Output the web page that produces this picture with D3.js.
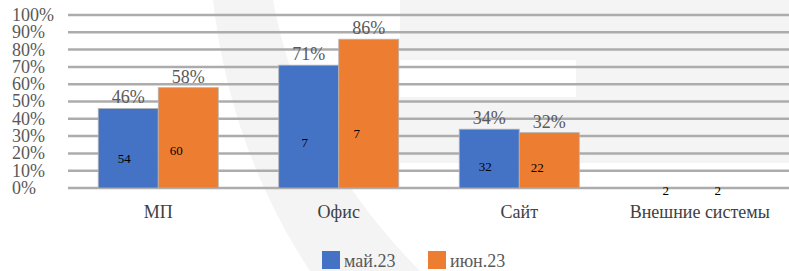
<!DOCTYPE html>
<html>
<head>
<meta charset="utf-8">
<script src="https://cdn.jsdelivr.net/npm/d3@7"></script>
<style>
  html, body { margin: 0; padding: 0; background: #ffffff; }
  svg { display: block; }
</style>
</head>
<body>
<svg id="chart" width="789" height="271"></svg>
<script>
// ---- data ----
const categories = ["МП", "Офис", "Сайт", "Внешние системы"];
const seriesNames = ["май.23", "июн.23"];
const mayValues = [46, 71, 34, 0];
const junValues = [58, 86, 32, 0];
const mayCounts = ["54", "7", "32", "2"];
const junCounts = ["60", "7", "22", "2"];
const yTicks = [0, 10, 20, 30, 40, 50, 60, 70, 80, 90, 100];
const colors = ["#4472C4", "#ED7D31"];

const series = [
  { name: seriesNames[0], values: mayValues, counts: mayCounts, color: colors[0], dx: -4 },
  { name: seriesNames[1], values: junValues, counts: junCounts, color: colors[1], dx: -12 }
];

const FONT = '"Liberation Serif", "Times New Roman", serif';
const svg = d3.select("#chart");
const W = 789;

// faint watermark background
const bg = svg.append("g");
bg.append("rect").attr("x", 400).attr("y", 0).attr("width", 389).attr("height", 163).attr("fill", "#f4f4f4");
bg.append("rect").attr("x", 400).attr("y", 60).attr("width", 176).attr("height", 37).attr("fill", "#ffffff");
bg.append("path")
  .attr("d", "M213,0 L273,0 Q300,150 420,271 L310,271 Q230,150 213,0 Z")
  .attr("fill", "#f4f4f4");

// scales
const x0 = d3.scaleBand().domain(categories).range([68, 790]).paddingInner(0.335).paddingOuter(0.1675);
const x1 = d3.scaleBand().domain(seriesNames).range([0, x0.bandwidth()]).padding(0);
const y = d3.scaleLinear().domain([0, 100]).range([188, 15]);

// gridlines
svg.append("g").selectAll("line").data(yTicks).join("line")
  .attr("x1", 68).attr("x2", W)
  .attr("y1", d => y(d)).attr("y2", d => y(d))
  .attr("stroke", "#acacac").attr("stroke-width", 2.5);

// y tick labels (left-aligned)
svg.append("g").selectAll("text").data(yTicks).join("text")
  .attr("x", 12).attr("y", d => y(d)).attr("dy", "0.33em")
  .style("font-family", FONT)
  .attr("font-size", 18).attr("fill", "#595959")
  .text(d => d + "%");

// bars
const groups = svg.append("g").selectAll("g").data(series).join("g");
groups.selectAll("rect").data(s => categories.map((c, i) => ({ c, v: s.values[i], s }))).join("rect")
  .attr("x", d => x0(d.c) + x1(d.s.name))
  .attr("y", d => y(d.v))
  .attr("width", x1.bandwidth())
  .attr("height", d => y(0) - y(d.v))
  .attr("fill", d => d.s.color)
  .attr("stroke", d => d.v > 0 ? "#b4b4b4" : "none")
  .attr("stroke-width", 0.8);

// percent labels above bars
groups.selectAll("text.pct").data(s => categories.map((c, i) => ({ c, v: s.values[i], s })).filter(d => d.v > 0)).join("text")
  .attr("class", "pct")
  .attr("x", d => x0(d.c) + x1(d.s.name) + x1.bandwidth() / 2)
  .attr("y", d => y(d.v) - 5)
  .attr("text-anchor", "middle")
  .style("font-family", FONT)
  .attr("font-size", 18).attr("fill", "#595959")
  .text(d => d.v + "%");

// count labels inside bars
groups.selectAll("text.cnt").data(s => categories.map((c, i) => ({ c, v: s.values[i], n: s.counts[i], s }))).join("text")
  .attr("class", "cnt")
  .attr("x", d => x0(d.c) + x1(d.s.name) + x1.bandwidth() / 2 + d.s.dx)
  .attr("y", d => {
    const h = y(0) - y(d.v);
    return d.v > 0 ? y(0) - 0.37 * h : y(0) + 2;
  })
  .attr("dy", "0.35em")
  .attr("text-anchor", "middle")
  .style("font-family", FONT)
  .attr("font-size", 13).attr("fill", "#000000")
  .text(d => d.n);

// category labels
svg.append("g").selectAll("text").data(categories).join("text")
  .attr("x", d => x0(d) + x0.bandwidth() / 2)
  .attr("y", 218)
  .attr("text-anchor", "middle")
  .style("font-family", FONT)
  .attr("font-size", 18).attr("fill", "#404040")
  .text(d => d);

// legend
const legend = svg.append("g");
const legendX = [322, 428];
series.forEach((s, i) => {
  legend.append("rect").attr("x", legendX[i]).attr("y", 251).attr("width", 18).attr("height", 18).attr("fill", s.color);
  legend.append("text").attr("x", legendX[i] + 22).attr("y", 267)
    .style("font-family", FONT)
    .attr("font-size", 18).attr("fill", "#595959").text(s.name);
});
</script>
</body>
</html>
